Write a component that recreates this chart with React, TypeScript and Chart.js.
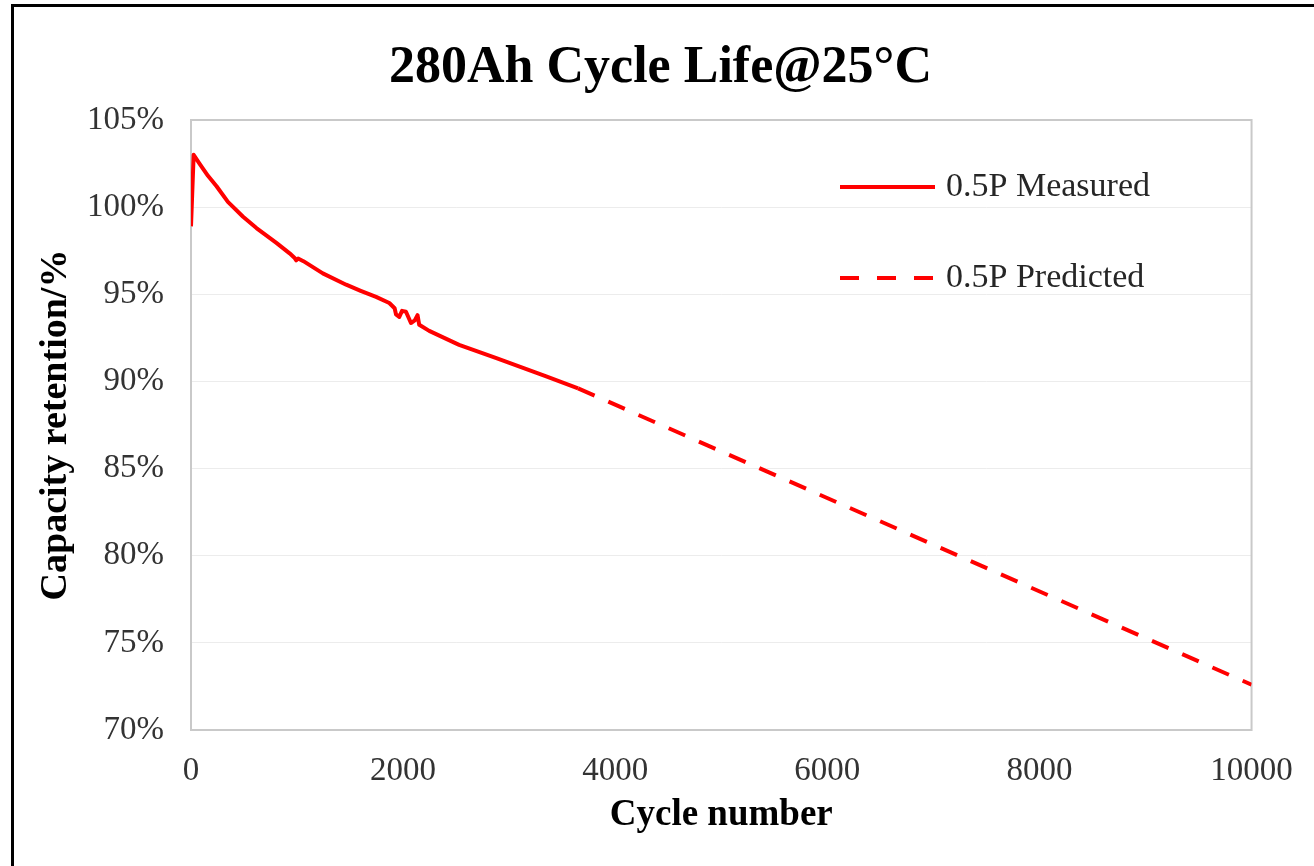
import React, { useEffect, useRef } from "react";
import { Chart, registerables } from "chart.js";

Chart.register(...registerables);

const chartTitle = "280Ah Cycle Life@25°C";
const xAxisTitle = "Cycle number";
const yAxisTitle = "Capacity retention/%";
const seriesLabels = ["0.5P Measured", "0.5P Predicted"];

const measuredCycles = [
  0, 25, 80, 160, 241, 348, 491, 617, 805, 930, 975, 992, 1010, 1060, 1243, 1463, 1600, 1745, 1870,
  1920, 1933, 1964, 1990, 2027, 2074, 2110, 2136, 2152, 2246, 2528, 2873, 3343, 3650,
];
const measuredRetention = [
  98.9, 103.0, 102.5, 101.8, 101.2, 100.3, 99.45, 98.8, 97.95, 97.35, 97.1, 96.95, 97.05, 96.9, 96.2,
  95.55, 95.2, 94.85, 94.5, 94.2, 93.85, 93.7, 94.05, 94.0, 93.35, 93.5, 93.8, 93.25, 92.9, 92.1,
  91.35, 90.3, 89.6,
];

const predictedCycles = [3650, 10000];
const predictedRetention = [89.6, 72.6];

const xTicks = [0, 2000, 4000, 6000, 8000, 10000];
const yTicks = [70, 75, 80, 85, 90, 95, 100, 105];

const SERIF = '"Liberation Serif", "Times New Roman", serif';
const RED = "#ff0000";

const framePlugin = {
  id: "plotFrame",
  beforeDatasetsDraw(chart: any) {
    const { ctx, chartArea } = chart;
    ctx.save();
    ctx.strokeStyle = "#c9c9c9";
    ctx.lineWidth = 2;
    ctx.strokeRect(
      chartArea.left,
      chartArea.top,
      chartArea.right - chartArea.left,
      chartArea.bottom - chartArea.top
    );
    ctx.restore();
  },
};

const legendPlugin = {
  id: "insideLegend",
  afterDraw(chart: any) {
    const { ctx, chartArea } = chart;
    const x0 = chartArea.left + 649;
    const lineLen = 95;
    const y0 = chartArea.top + 67;
    const gap = 91;
    chart.data.datasets.forEach((ds: any, i: number) => {
      const y = y0 + i * gap;
      ctx.save();
      ctx.strokeStyle = ds.borderColor;
      ctx.lineWidth = ds.borderWidth;
      ctx.lineCap = "butt";
      ctx.setLineDash(ds.borderDash ? [19, 18] : []);
      ctx.beginPath();
      ctx.moveTo(x0, y);
      ctx.lineTo(x0 + lineLen, y);
      ctx.stroke();
      ctx.setLineDash([]);
      ctx.fillStyle = "#262626";
      ctx.font = `34px ${SERIF}`;
      ctx.textBaseline = "middle";
      ctx.textAlign = "left";
      ctx.fillText(ds.label, x0 + lineLen + 11, y);
      ctx.restore();
    });
  },
};

export default function App() {
  const canvasRef = useRef<HTMLCanvasElement | null>(null);

  useEffect(() => {
    if (!canvasRef.current) return;
    const chart = new Chart(canvasRef.current, {
      type: "line",
      data: {
        datasets: [
          {
            label: seriesLabels[0],
            data: measuredCycles.map((c, i) => ({ x: c, y: measuredRetention[i] })),
            borderColor: RED,
            backgroundColor: RED,
            borderWidth: 4,
            pointRadius: 0,
            tension: 0,
            borderJoinStyle: "round",
          },
          {
            label: seriesLabels[1],
            data: predictedCycles.map((c, i) => ({ x: c, y: predictedRetention[i] })),
            borderColor: RED,
            backgroundColor: RED,
            borderWidth: 4,
            borderDash: [18, 15],
            pointRadius: 0,
            tension: 0,
          },
        ],
      },
      options: {
        animation: false,
        responsive: true,
        maintainAspectRatio: false,
        layout: { padding: { top: 0, left: 66, right: 59, bottom: 0 } },
        plugins: {
          legend: { display: false },
          tooltip: { enabled: false },
          title: {
            display: true,
            text: chartTitle,
            color: "#000",
            font: { family: SERIF, size: 52, weight: "bold", lineHeight: 1.2 },
            padding: { top: 37, bottom: 20.6 },
          },
        },
        scales: {
          x: {
            type: "linear",
            min: xTicks[0],
            max: xTicks[xTicks.length - 1],
            afterBuildTicks: (scale: any) => {
              scale.ticks = xTicks.map((v) => ({ value: v }));
            },
            afterFit: (scale: any) => {
              scale.height = 136;
            },
            grid: { display: false, drawTicks: false },
            border: { display: false },
            ticks: {
              padding: 21.2,
              color: "#333",
              font: { family: SERIF, size: 33 },
              maxRotation: 0,
              callback: (v: any) => String(v),
            },
            title: {
              display: true,
              text: xAxisTitle,
              color: "#000",
              font: { family: SERIF, size: 37, weight: "bold", lineHeight: 1.2 },
              padding: { top: 0, bottom: 28.8 },
            },
          },
          y: {
            type: "linear",
            min: yTicks[0],
            max: yTicks[yTicks.length - 1],
            afterBuildTicks: (scale: any) => {
              scale.ticks = yTicks.map((v) => ({ value: v }));
            },
            afterFit: (scale: any) => {
              scale.width = 125;
            },
            grid: { color: "#ececec", lineWidth: 1, drawTicks: false },
            border: { display: false },
            ticks: {
              padding: 27,
              color: "#333",
              font: { family: SERIF, size: 33 },
              callback: (v: any) => `${v}%`,
            },
            title: {
              display: true,
              text: yAxisTitle,
              color: "#000",
              font: { family: SERIF, size: 38, weight: "bold", lineHeight: 1.2 },
              padding: { top: -32.8, bottom: 0 },
            },
          },
        },
      },
      plugins: [framePlugin, legendPlugin],
    } as any);
    return () => chart.destroy();
  }, []);

  return (
    <div
      style={{
        position: "fixed",
        left: 0,
        top: 0,
        width: 1314,
        height: 866,
        overflow: "hidden",
        background: "#fff",
      }}
    >
      <div style={{ position: "absolute", left: 0, top: 0, width: 1314, height: 866 }}>
        <canvas ref={canvasRef} />
      </div>
      <div
        style={{
          position: "absolute",
          left: 11,
          top: 4,
          width: 1400,
          height: 1000,
          borderLeft: "3px solid #000",
          borderTop: "3px solid #000",
          pointerEvents: "none",
        }}
      />
    </div>
  );
}
